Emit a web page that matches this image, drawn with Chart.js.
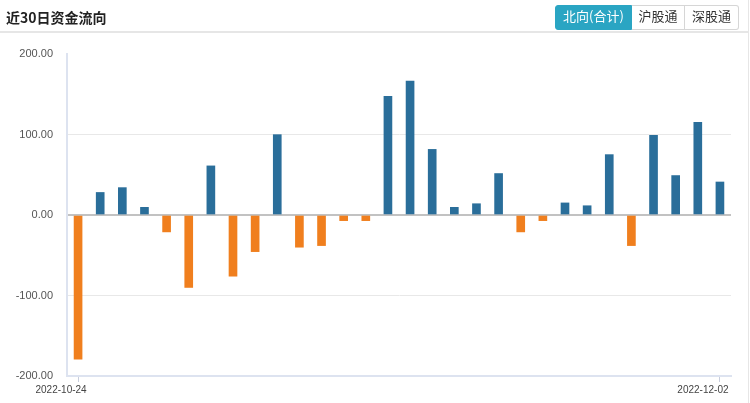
<!DOCTYPE html>
<html>
<head>
<meta charset="utf-8">
<script src="https://cdn.jsdelivr.net/npm/chart.js@4/dist/chart.umd.min.js"></script>
<style>
  html, body { margin: 0; padding: 0; background: #fff; }
  #panel { position: relative; width: 750px; height: 403px; overflow: hidden; }
  #panel::after { content: ""; position: absolute; right: 1px; top: 0; bottom: 0; width: 1px; background: #e6e6e6; }
  #head { position: absolute; left: 0; top: 0; width: 748px; height: 31px; border-bottom: 2px solid #e6e6e6; }
  #title { position: absolute; left: 6px; top: 7px; font: bold 14px "Noto Sans CJK SC", sans-serif; color: #222; line-height: 20px; }
  #tabs { position: absolute; left: 555px; top: 5px; display: flex; }
  #tabs span { display: block; height: 23px; line-height: 23px; font: 13px "Noto Sans CJK SC", sans-serif; color: #333;
    border: 1px solid #d6d6d6; border-left: none; text-align: center; background: #fff; }
  #tabs span:first-child { border-left: 1px solid #2aa5c3; border-color: #2aa5c3; background: #2aa5c3; color: #fff; border-radius: 3px 0 0 3px; }
  #tabs span:last-child { border-radius: 0 3px 3px 0; }
  #chart { position: absolute; left: 0; top: 0; }
</style>
</head>
<body>
<div id="panel">
  <canvas id="chart" width="750" height="403"></canvas>
  <div id="head">
    <div id="title">近30日资金流向</div>
    <div id="tabs"><span style="width:75px">北向(合计)</span><span style="width:52px">沪股通</span><span style="width:53px">深股通</span></div>
  </div>
</div>
<script>
const dates = [
  "2022-10-24", "2022-10-25", "2022-10-26", "2022-10-27", "2022-10-28",
  "2022-10-31", "2022-11-01", "2022-11-02", "2022-11-03", "2022-11-04",
  "2022-11-07", "2022-11-08", "2022-11-09", "2022-11-10", "2022-11-11",
  "2022-11-14", "2022-11-15", "2022-11-16", "2022-11-17", "2022-11-18",
  "2022-11-21", "2022-11-22", "2022-11-23", "2022-11-24", "2022-11-25",
  "2022-11-28", "2022-11-29", "2022-11-30", "2022-12-01", "2022-12-02",
];
const netFlow = [
  -179, 28, 34, 9.5, -21,
  -90, 61, -76, -45.5, 99.8,
  -40, -38, -7, -7, 147.5,
  166.5, 81.5, 9.5, 14, 51.5,
  -21, -7, 15, 11.5, 75,
  -38, 99, 49, 115, 41,
];
const yTicks = [-200, -100, 0, 100, 200];

const UP = "#2a6e9a";
const DOWN = "#f07f1e";
const lastIdx = dates.length - 1;

const ctx = document.getElementById("chart").getContext("2d");
new Chart(ctx, {
  type: "bar",
  data: {
    labels: dates,
    datasets: [
      {
        data: netFlow,
        backgroundColor: netFlow.map((v) => (v >= 0 ? UP : DOWN)),
        borderWidth: 0,
        barThickness: 8,
      },
    ],
  },
  options: {
    responsive: false,
    animation: false,
    layout: { padding: { top: 54, right: 19, left: 0, bottom: 0 } },
    plugins: { legend: { display: false }, tooltip: { enabled: false } },
    scales: {
      x: {
        offset: true,
        afterFit: (s) => { s.height = 27; },
        grid: {
          offset: false,
          drawOnChartArea: false,
          tickLength: 6,
          color: (c) => (c.index === 0 || c.index === lastIdx ? "#c8cedd" : "rgba(0,0,0,0)"),
        },
        border: { color: "#dde3f0", width: 2 },
        ticks: {
          autoSkip: false,
          maxRotation: 0,
          padding: 2,
          labelOffset: -17,
          color: "#444",
          font: { family: "Liberation Sans", size: 10 },
          callback: (v, i) => (i === 0 || i === lastIdx ? dates[i] : ""),
        },
      },
      y: {
        min: yTicks[0],
        max: yTicks[yTicks.length - 1],
        afterFit: (s) => { s.width = 67; },
        afterBuildTicks: (s) => { s.ticks = yTicks.map((v) => ({ value: v })); },
        grid: {
          drawTicks: false,
          color: (c) => {
            const v = c.tick.value;
            if (v === 0) return "#c2c2c2";
            if (v === 200 || v === -200) return "rgba(0,0,0,0)";
            return "#e8e8e8";
          },
          lineWidth: (c) => (c.tick.value === 0 ? 2 : 1),
        },
        border: { color: "#dde3f0", width: 2 },
        ticks: {
          padding: 14,
          color: "#555",
          font: { family: "Liberation Sans", size: 11 },
          callback: (v) => Number(v).toFixed(2),
        },
      },
    },
  },
});
</script>
</body>
</html>
